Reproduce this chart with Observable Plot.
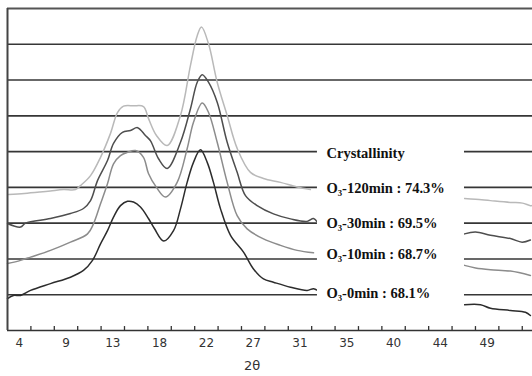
<!DOCTYPE html>
<html><head><meta charset="utf-8">
<script src="https://cdn.jsdelivr.net/npm/d3@7"></script>
<script src="https://cdn.jsdelivr.net/npm/@observablehq/plot@0.6"></script>
<style>body{margin:0;background:#fff}</style>
</head><body><div id="chart"></div>
<script>
// 2θ tick labels (category-style axis, labels every 4.5°)
const tickLabels = ["4","9","13","18","22","27","31","35","40","44","49"];
const tickValues = [4, 8.5, 13, 17.5, 22, 26.5, 31, 35.5, 40, 44.5, 49];

const seriesNames = ["O3-120min", "O3-30min", "O3-10min", "O3-0min"];
const legendTitle = "Crystallinity";
const legendLabels = ["O₃-120min : 74.3%", "O₃-30min : 69.5%", "O₃-10min : 68.7%", "O₃-0min : 68.1%"];

// [2θ, offset intensity (grid units)]; null = hidden behind the legend box
const o3_120 = [[2.97,3.80],[4.5,3.83],[6,3.87],[7,3.90],[8.26,3.94],[9.41,3.94],[9.89,4.05],[10.86,4.33],[11.82,4.84],[12.78,5.51],[13.45,6.09],[14.03,6.27],[15.0,6.28],[15.95,6.26],[16.43,5.93],[17.2,5.45],[18.23,5.17],[19.51,6.01],[20.47,7.41],[21.12,8.24],[21.53,8.48],[22.20,8.02],[23.04,6.94],[24.00,6.01],[24.96,5.09],[26.24,4.42],[27.49,4.25],[29.13,4.14],[30.73,4.01],[32.0,3.94],
  null,[46.82,3.69],[47.88,3.67],[49.32,3.63],[51.24,3.58],[52.4,3.56],[53.16,3.49],[53.36,3.50]];
const o3_30 = [[2.875,2.99],[4.13,2.89],[4.61,3.00],[7.01,3.13],[8.93,3.27],[10.18,3.41],[10.86,3.63],[11.53,4.19],[12.49,4.75],[13.07,5.23],[13.93,5.54],[14.70,5.59],[15.38,5.67],[16.14,5.45],[16.63,5.30],[17.4,4.80],[18.23,4.53],[19.51,5.26],[20.47,6.20],[21.12,6.94],[21.60,7.15],[22.20,6.94],[23.04,6.38],[24.00,5.26],[24.96,4.42],[25.76,3.77],[26.88,3.49],[28.45,3.26],[30.09,3.12],[31.69,3.05],[32.30,3.13],[32.68,3.02],
  null,[46.82,2.70],[47.88,2.75],[49.32,2.66],[51.24,2.57],[52.36,2.47],[53.16,2.53]];
const o3_10 = [[2.875,1.87],[4.13,1.96],[5.09,2.05],[7.01,2.24],[8.93,2.47],[10.57,2.70],[11.14,2.98],[11.82,3.54],[12.49,4.10],[13.07,4.66],[13.74,4.89],[14.41,4.98],[15.18,5.03],[15.95,4.84],[16.43,4.39],[17.2,4.00],[18.07,3.73],[19.19,4.14],[20.15,5.08],[20.76,5.82],[21.60,6.36],[22.20,6.10],[23.04,5.26],[24.00,4.14],[24.96,3.21],[25.92,2.84],[27.49,2.56],[29.13,2.38],[30.73,2.24],[32.30,2.17],
  null,[46.82,1.82],[47.88,1.75],[49.32,1.70],[51.24,1.66],[53.16,1.54]];
const o3_0 = [[2.875,0.89],[3.45,0.98],[4.13,0.98],[5.09,1.12],[7.01,1.31],[8.93,1.49],[10.18,1.68],[11.05,1.96],[11.82,2.42],[12.49,2.79],[13.07,3.17],[13.74,3.49],[14.41,3.61],[14.99,3.59],[15.66,3.45],[16.43,3.13],[17.0,2.85],[17.90,2.50],[18.84,2.79],[19.51,3.40],[20.15,4.14],[20.76,4.70],[21.43,5.05],[22.08,4.70],[22.68,4.14],[23.36,3.40],[24.32,2.66],[25.57,2.19],[26.53,1.72],[27.49,1.44],[28.45,1.35],[30.09,1.21],[31.69,1.12],[32.30,1.17],[32.68,1.12],
  null,[46.82,0.72],[48.36,0.72],[49.32,0.62],[51.24,0.56],[52.68,0.51],[53.16,0.42]];

const seriesData = [o3_120, o3_30, o3_10, o3_0];
const colors = ["#b9b9b9", "#4e4e4e", "#8c8c8c", "#2c2c2c"];

const rows = [];
seriesData.forEach((arr, i) => arr.forEach(p => rows.push({
  series: seriesNames[i],
  x: p ? p[0] : NaN,
  y: p ? p[1] : NaN
})));

const xDomain = [2.875, 53.36];
const yDomain = [0, 9];
const gridLevels = [1,2,3,4,5,6,7,8];
// minor ticks between labels (every 2.25°)
const minorTicks = d3.range(xDomain[0] + 2.25, xDomain[1], 2.25);

// legend box (data units)
const box = {x1: 32.68, x2: 46.82, y1: 0.5, y2: 5.37};
const legendX = 33.55;
const legendY = [4.95, 3.97, 2.99, 2.12, 1.03];

const legendRows = [legendTitle, ...legendLabels].map((t, i) => ({t, y: legendY[i]}));

const chart = Plot.plot({
  width: 532,
  height: 376,
  marginLeft: 7,
  marginRight: 0,
  marginTop: 8,
  marginBottom: 46,
  x: {domain: xDomain},
  y: {domain: yDomain, axis: null},
  style: {background: "#fff"},
  marks: [
    Plot.ruleY(gridLevels, {stroke: "#363636", strokeWidth: 1.6}),
    Plot.line(rows, {x: "x", y: "y", z: "series", stroke: "series", strokeWidth: 1.5, curve: "catmull-rom"}),
    Plot.rect([box], {x1: "x1", x2: "x2", y1: "y1", y2: "y2", fill: "#fff"}),
    Plot.ruleY([9], {stroke: "#555", strokeWidth: 2}),
    Plot.ruleY([0], {stroke: "#333", strokeWidth: 1.6}),
    Plot.ruleX([xDomain[0]], {stroke: "#444", strokeWidth: 2}),
    Plot.ruleX(minorTicks, {y1: 0, y2: 0.11, stroke: "#333", strokeWidth: 1.3}),
    Plot.axisX({ticks: tickValues, tickFormat: (d, i) => tickLabels[i], tickSize: 0, tickPadding: 8,
      fontSize: 12, fontFamily: "DejaVu Sans", fill: "#333", label: null}),
    Plot.text(["2θ"], {x: 26.4, y: -1, fontSize: 13, fontFamily: "DejaVu Sans", fill: "#333"}),
    Plot.text(legendRows, {x: legendX, y: "y", text: "t", textAnchor: "start", fontSize: 14.5,
      fontWeight: "bold", fontFamily: "Liberation Serif", fill: "#111"})
  ],
  color: {domain: seriesNames, range: colors}
});
document.getElementById("chart").append(chart);
</script>
</body></html>
